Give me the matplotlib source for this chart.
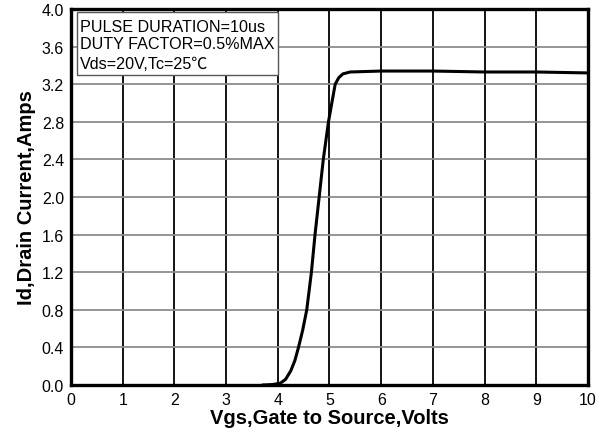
import matplotlib
matplotlib.use("Agg")
import matplotlib.pyplot as plt
from matplotlib.patches import Rectangle

plt.rcParams['font.family'] = ['Liberation Sans', 'DejaVu Sans']

# transfer characteristic, Id vs Vgs
vgs = [3.70, 3.90, 4.05, 4.15, 4.25, 4.33, 4.40, 4.48, 4.56, 4.65, 4.72, 4.80,
       4.88, 4.98, 5.11, 5.18, 5.26, 5.40, 6.0, 7.0, 8.0, 9.0, 10.0]
idrain = [0.0, 0.005, 0.02, 0.06, 0.15, 0.26, 0.40, 0.58, 0.80, 1.20, 1.60, 2.00,
          2.40, 2.80, 3.20, 3.27, 3.31, 3.33, 3.34, 3.34, 3.33, 3.33, 3.32]

xticks = list(range(0, 11))
yticks = [0.0, 0.4, 0.8, 1.2, 1.6, 2.0, 2.4, 2.8, 3.2, 3.6, 4.0]
note_lines = ["PULSE DURATION=10us", "DUTY FACTOR=0.5%MAX", "Vds=20V,Tc=25\u2103"]
note_y = [3.769, 3.590, 3.377]

fig = plt.figure(figsize=(6.09, 4.35), dpi=100)
ax = fig.add_axes([0.1166, 0.1126, 0.8489, 0.8644])

for x in xticks[1:-1]:
    ax.axvline(x, color="black", lw=1.3, zorder=1)
for y in yticks[1:-1]:
    ax.axhline(y, color="#8c8c8c", lw=1.3, zorder=1)

ax.plot(vgs, idrain, color="black", lw=2.2, zorder=3, solid_capstyle="round")

ax.set_xlim(0, 10)
ax.set_ylim(0, 4.0)
ax.set_xticks(xticks)
ax.set_yticks(yticks)
ax.set_yticklabels(["%.1f" % v for v in yticks])
ax.tick_params(length=0, labelsize=11.5)
ax.tick_params(axis="x", pad=5)
ax.tick_params(axis="y", pad=5)
for s in ax.spines.values():
    s.set_linewidth(2.4)
    s.set_zorder(4)

ax.set_xlabel("Vgs,Gate to Source,Volts", fontsize=14.5, fontweight="bold", labelpad=1)
ax.set_ylabel("Id,Drain Current,Amps", fontsize=14.5, fontweight="bold", labelpad=4)

# conditions box in the upper left corner
ax.add_patch(Rectangle((0.116, 3.298), 3.884, 0.670, fc="white", ec="#555555",
                       lw=1.0, zorder=5))
for line, y in zip(note_lines, note_y):
    ax.text(0.174, y, line, fontsize=11.6, va="baseline", ha="left", zorder=6,
            family=['Liberation Sans', 'Noto Sans CJK SC', 'DejaVu Sans'])

fig.savefig("out.png", dpi=100)
